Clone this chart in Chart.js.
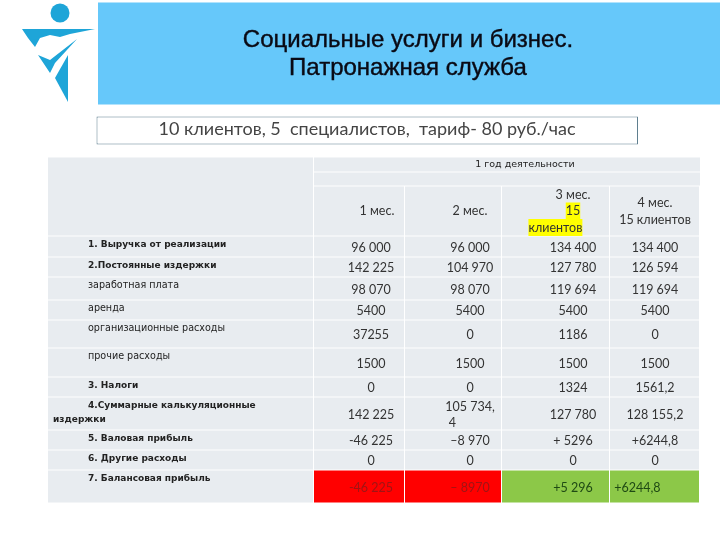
<!DOCTYPE html>
<html lang="ru">
<head>
<meta charset="utf-8">
<title>Патронажная служба</title>
<script src="https://cdn.jsdelivr.net/npm/chart.js@4"></script>
<style>
  html, body { margin: 0; background: #fff; }
  canvas { display: block; }
</style>
</head>
<body>
<canvas id="slide" width="720" height="540"></canvas>
<script>
// Table content
const titleLines = ["Социальные услуги и бизнес.", "Патронажная служба"];
const subtitle = "10 клиентов, 5  специалистов,  тариф- 80 руб./час";
const periodLabel = "1 год деятельности";
const NB = "\u00a0";
const monthLabels = [
  ["1 мес."],
  ["2 мес."],
  ["3 мес.", "15", "клиентов" + NB.repeat(11)],
  ["4 мес.", "15 клиентов"]
];
const rowLabels = [
  ["1. Выручка от реализации"],
  ["2.Постоянные издержки"],
  ["заработная плата"],
  ["аренда"],
  ["организационные расходы"],
  ["прочие расходы"],
  ["3. Налоги"],
  ["4.Суммарные калькуляционные", "издержки"],
  ["5. Валовая прибыль"],
  ["6. Другие расходы"],
  ["7. Балансовая прибыль"]
];
const boldRows = [0, 1, 6, 7, 8, 9, 10];
const month1 = ["96 000", "142 225", "98 070", "5400", "37255", "1500", "0", "142 225", "-46 225", "0", "-46 225"];
const month2 = ["96 000", "104 970", "98 070", "5400", "0", "1500", "0", ["105 734,", "4" + NB.repeat(11)], "–8 970", "0", "– 8970"];
const month3 = ["134 400", "127 780", "119 694", "5400", "1186", "1500", "1324", "127 780", "+ 5296", "0", "+5 296"];
const month4 = ["134 400", "126 594", "119 694", "5400", "0", "1500", "1561,2", "128 155,2", "+6244,8", "0", "+6244,8" + NB.repeat(11)];
const months = [month1, month2, month3, month4];

// Slide layout, in the slide's own 720x540 units
const colEdges = [48, 314, 405, 502, 610, 700];
const colTextX = [371, 470, 573, 655];
const headEdges = [157, 172, 186, 236];
const rowEdges = [236, 257, 277, 300, 320, 348, 377, 397, 430, 450, 470, 503];
const gap = 1;
const cellColor = "#e8ecf0";
const lossColor = "#ff0000";
const gainColor = "#8cc848";

function rowDataset(top, bottom, cells, color) {
  return {
    type: "bar",
    stack: "slide",
    barThickness: bottom - top - gap,
    backgroundColor: color,
    borderWidth: 0,
    data: cells.map(c => ({ x: c, y: (top + bottom) / 2 }))
  };
}

function spans() {
  const out = [];
  for (let i = 0; i < colEdges.length - 1; i++) out.push([colEdges[i], colEdges[i + 1] - gap]);
  return out;
}

const datasets = [];
// banner and subtitle frame
datasets.push(rowDataset(2, 105, [[98, 720]], "#66c8fa"));
datasets.push(Object.assign(rowDataset(116, 145, [[96.5, 638]], "#ffffff"), { borderWidth: 1, borderColor: "#5f7f8f", borderSkipped: false }));
// table header
datasets.push(rowDataset(headEdges[0], rowEdges[0], [[colEdges[0], colEdges[1] - gap]], cellColor));
datasets.push(rowDataset(headEdges[0], headEdges[1], [[colEdges[1], colEdges[5]]], cellColor));
datasets.push(rowDataset(headEdges[1], headEdges[2], [[colEdges[1], colEdges[5]]], cellColor));
datasets.push(rowDataset(headEdges[2], headEdges[3], spans().slice(1), cellColor));
// table rows
rowLabels.forEach((label, r) => {
  const last = r === rowLabels.length - 1;
  const colors = last ? [cellColor, lossColor, lossColor, gainColor, gainColor] : cellColor;
  datasets.push(rowDataset(rowEdges[r], rowEdges[r + 1], spans(), colors));
});

const slideText = {
  id: "slideText",
  afterDatasetsDraw(chart) {
    const { ctx, scales: { x, y } } = chart;
    const put = (text, vx, vy, font, color, align) => {
      ctx.font = font;
      ctx.fillStyle = color;
      ctx.textAlign = align || "center";
      ctx.textBaseline = "middle";
      ctx.fillText(text, x.getPixelForValue(vx), y.getPixelForValue(vy));
    };
    const numFont = "12.5px Lato";
    const labelFont = "9.6px 'DejaVu Sans'";
    const labelBold = "bold 9px 'DejaVu Sans'";

    ctx.save();
    // logo
    const poly = pts => {
      ctx.beginPath();
      pts.forEach((p, i) => i ? ctx.lineTo(x.getPixelForValue(p[0]), y.getPixelForValue(p[1])) : ctx.moveTo(x.getPixelForValue(p[0]), y.getPixelForValue(p[1])));
      ctx.closePath();
      ctx.fill();
    };
    ctx.fillStyle = "#1ea5d8";
    ctx.beginPath();
    ctx.arc(x.getPixelForValue(60), y.getPixelForValue(13), 9.5, 0, Math.PI * 2);
    ctx.fill();
    poly([[22, 29], [95, 29], [70, 34], [60, 37], [50, 35], [40, 38], [35, 47], [28, 38]]);
    poly([[38, 55], [50, 73], [55, 63], [77, 39], [50, 60]]);
    poly([[68, 55], [68, 102], [55, 78]]);

    // banner title, double struck like the source
    titleLines.forEach((t, i) => {
      put(t, 408, 40 + i * 28, "24px 'Liberation Sans'", "#0a0a14");
      ctx.strokeStyle = "#0a0a14";
      ctx.lineWidth = 0.4;
      ctx.strokeText(t, x.getPixelForValue(408), y.getPixelForValue(40 + i * 28));
    });
    put(subtitle, 367, 129, "18px Lato", "#444");
    put(periodLabel, 525, 164.5, "9.5px 'DejaVu Sans'", "#222");

    // month headers, yellow marker behind the 15 clients lines
    monthLabels.forEach((lines, c) => {
      const mid = (headEdges[2] + headEdges[3]) / 2;
      const step = c === 2 ? 16.5 : 17;
      const top = mid - (lines.length - 1) * step / 2;
      lines.forEach((line, i) => {
        const vy = top + i * step;
        ctx.font = numFont;
        if (c === 2 && i > 0) {
          const w = ctx.measureText(line).width;
          const shown = ctx.measureText(line.replaceAll(NB, "")).width;
          const left = colTextX[c] - w / 2;
          ctx.fillStyle = "#ffff00";
          ctx.fillRect(x.getPixelForValue(left), y.getPixelForValue(vy - 8.5), shown, 17);
        }
        put(line, colTextX[c] + (c === 0 ? 6 : 0), vy, numFont, "#333");
      });
    });

    // rows
    rowLabels.forEach((lines, r) => {
      const font = boldRows.includes(r) ? labelBold : labelFont;
      lines.forEach((line, i) => {
        put(line, i === 0 ? 88 : 53, rowEdges[r] + 8.5 + i * 14, font, "#222", "left");
      });
      const mid = (rowEdges[r] + rowEdges[r + 1]) / 2 + 1;
      months.forEach((series, c) => {
        const cell = series[r];
        const last = r === rowLabels.length - 1;
        const color = !last ? "#333" : c < 2 ? "#a01414" : "#1f4a14";
        const parts = Array.isArray(cell) ? cell : [cell];
        parts.forEach((t, i) => {
          put(t, colTextX[c], mid + (i - (parts.length - 1) / 2) * 16, numFont, color);
        });
      });
    });
    ctx.restore();
  }
};

new Chart(document.getElementById("slide"), {
  type: "bar",
  data: { datasets },
  options: {
    indexAxis: "y",
    responsive: false,
    animation: false,
    events: [],
    clip: false,
    inflateAmount: 0,
    layout: { padding: 0 },
    plugins: { legend: { display: false }, tooltip: { enabled: false } },
    scales: {
      x: { type: "linear", min: 0, max: 720, stacked: false, display: false },
      y: { type: "linear", min: 0, max: 540, reverse: true, display: false, offset: false }
    }
  },
  plugins: [slideText]
});
</script>
</body>
</html>
